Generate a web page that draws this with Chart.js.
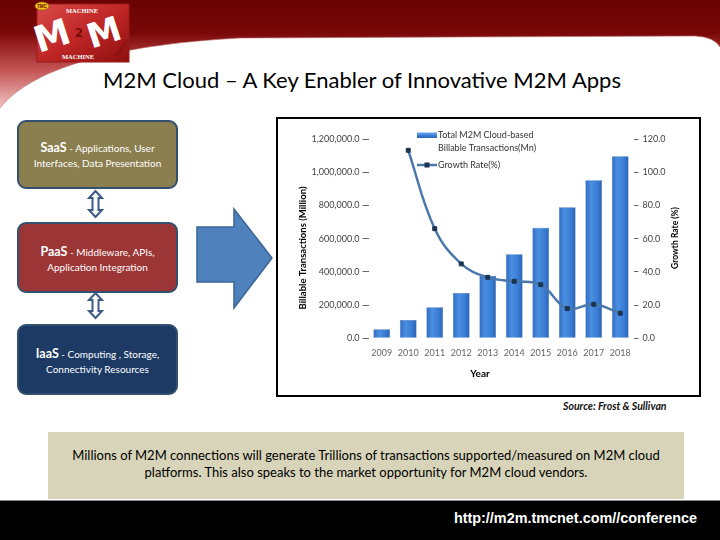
<!DOCTYPE html>
<html>
<head>
<meta charset="utf-8">
<script src="https://cdn.jsdelivr.net/npm/chart.js@4/dist/chart.umd.min.js"></script>
<style>
  html,body{margin:0;padding:0;background:#fff;}
  #slide{position:relative;width:720px;height:540px;overflow:hidden;background:#fff;font-family:Lato,"Open Sans",sans-serif;}
  .abs{position:absolute;}
  #title{left:0;width:724px;top:66px;text-align:center;font-size:22px;color:#000;font-family:Lato,sans-serif;}
  .box{position:absolute;left:17px;width:157px;border:2px solid #33506f;border-radius:9px;color:#fff;text-align:center;font-size:10px;line-height:15px;box-sizing:content-box;}
  .box b{font-size:12.5px;font-weight:700;}
  #chartWrap{position:absolute;left:276px;top:117px;width:421px;height:276px;border:2px solid #000;}
  #chartWrap canvas{position:absolute;left:0;top:0;}
  #source{left:563px;top:400px;font-size:10.5px;font-style:italic;font-weight:bold;color:#111;}
  #caption{left:48px;top:432px;width:636px;height:67px;background:#d7d4b9;text-align:center;font-size:13px;line-height:17px;color:#000;box-sizing:border-box;padding-top:15px;font-family:Lato,sans-serif;}
  #footer{left:0;top:500px;width:720px;height:40px;background:#000;border-top:1px solid #888;}
  #url{right:23px;top:510px;font-family:"Liberation Sans",Arial,sans-serif;font-weight:bold;font-size:14.4px;color:#fff;}
</style>
</head>
<body>
<div id="slide">
  <svg class="abs" style="left:0;top:0" width="720" height="115">
    <defs>
      <linearGradient id="hdr" x1="0" y1="0" x2="0" y2="1">
        <stop offset="0" stop-color="#690303"/>
        <stop offset="0.3" stop-color="#7a0808"/>
        <stop offset="0.42" stop-color="#9a2222"/>
        <stop offset="0.65" stop-color="#c65858"/>
        <stop offset="1" stop-color="#f3caca"/>
      </linearGradient>
      <linearGradient id="logo" x1="0" y1="0" x2="1" y2="1">
        <stop offset="0" stop-color="#d94a4a"/>
        <stop offset="0.5" stop-color="#c02626"/>
        <stop offset="1" stop-color="#8e1010"/>
      </linearGradient>
    </defs>
    <rect x="0" y="0" width="720" height="110" fill="url(#hdr)"/>
    <path d="M0,108 C30,70 110,45 240,38 L695,36 Q714,37 720,47 L720,115 L0,115 Z" fill="#ffffff"/>
    <path d="M0,108 C30,70 110,45 240,38 L695,36 Q714,37 720,47" fill="none" stroke="#b07070" stroke-width="1" opacity="0.6"/>
    <rect x="37" y="4" width="92" height="58" fill="url(#logo)" stroke="#9a1a1a" stroke-width="1"/>
    <ellipse cx="42" cy="6" rx="7" ry="4" fill="#f0c020" stroke="#8a6a00" stroke-width="0.6"/>
    <text x="42" y="8" font-size="4.5" font-family="Liberation Sans" font-weight="bold" text-anchor="middle" fill="#6a0000">TMC</text>
    <text x="82" y="13" font-size="6.5" font-family="Liberation Serif" font-weight="bold" fill="#fff" text-anchor="middle">MACHINE</text>
    <text x="52" y="48" font-size="36" font-family="DejaVu Sans" font-weight="bold" fill="#fff" text-anchor="middle" transform="rotate(-18 52 36)">M</text>
    <text x="104" y="44" font-size="34" font-family="DejaVu Sans" font-weight="bold" fill="#fff" text-anchor="middle" transform="rotate(-18 104 32)">M</text>
    <text x="79" y="37" font-size="12" font-family="DejaVu Sans" font-weight="bold" fill="#7a0a0a" text-anchor="middle">2</text>
    <text x="78" y="59" font-size="6.5" font-family="Liberation Serif" font-weight="bold" fill="#fff" text-anchor="middle">MACHINE</text>
    <text x="117" y="57" font-size="5" font-family="Liberation Sans" fill="#7a0a0a" transform="rotate(-55 117 57)">Evolution</text>
  </svg>

  <div id="title" class="abs">M2M Cloud – A Key Enabler of Innovative M2M Apps</div>

  <div class="box" style="top:120px;height:65px;background:#8b7e4f;">
    <div style="padding-top:18px;"><b>SaaS</b> - Applications, User<br>Interfaces, Data Presentation</div>
  </div>
  <div class="box" style="top:222px;height:67px;background:#9c3535;">
    <div style="padding-top:20px;"><b>PaaS</b> - Middleware, APIs,<br>Application Integration</div>
  </div>
  <div class="box" style="top:324px;height:67px;background:#1c3a64;">
    <div style="padding-top:20px;"><b>IaaS</b> - Computing , Storage,<br>Connectivity Resources</div>
  </div>

  <svg class="abs" style="left:0;top:0" width="300" height="400">
    <path d="M95.5,191 L102,198 L98.5,198 L98.5,210 L102,210 L95.5,217 L89,210 L92.5,210 L92.5,198 L89,198 Z" fill="#fff" stroke="#3b5b86" stroke-width="2"/>
    <path d="M95.5,293 L102,300 L98.5,300 L98.5,311 L102,311 L95.5,318 L89,311 L92.5,311 L92.5,300 L89,300 Z" fill="#fff" stroke="#3b5b86" stroke-width="2"/>
    <polygon points="197,227 234,227 234,209 272,258 234,308 234,282 197,282" fill="#4f81bd" stroke="#3a6596" stroke-width="1.5"/>
  </svg>

  <div id="chartWrap"><canvas id="c" width="421" height="276"></canvas></div>

  <div id="source" class="abs">Source: Frost &amp; Sullivan</div>

  <div id="caption" class="abs">Millions of M2M connections will generate Trillions of transactions supported/measured on M2M cloud<br>platforms. This also speaks to the market opportunity for M2M cloud vendors.</div>

  <div id="footer" class="abs"></div>
  <div id="url" class="abs">http://m2m.tmcnet.com//conference</div>
</div>

<script>
// ---- data ----
const years = ['2009','2010','2011','2012','2013','2014','2015','2016','2017','2018'];
const transactions = [54000, 110000, 187000, 273000, 377000, 506000, 666000, 789000, 951000, 1096000];
const growthRate = [null, 113.2, 66.0, 44.8, 36.7, 34.3, 32.3, 17.9, 20.5, 15.1];
const barLegend = ['Total M2M Cloud-based', 'Billable Transactions(Mn)'];
const lineLegend = 'Growth Rate(%)';
const leftTitle = 'Billable Transactions (Million)';
const rightTitle = 'Growth Rate (%)';
const xTitle = 'Year';

const FONT = 'Lato, "Open Sans", sans-serif';
const lineColor = '#4a78ad';
const markerColor = '#1c3350';

function barFill(ctx) {
  const chart = ctx.chart;
  const area = chart.chartArea;
  if (!area) return '#3b7dd6';
  const el = ctx.element;
  let cx, w;
  if (el && el.width) { cx = el.x; w = el.width; }
  else { cx = chart.scales.x.getPixelForValue(ctx.dataIndex); w = chart.scales.x.width / years.length * 0.63; }
  const g = chart.ctx.createLinearGradient(cx - w/2, 0, cx + w/2, 0);
  g.addColorStop(0, '#2f6cc4');
  g.addColorStop(0.35, '#4b8fe0');
  g.addColorStop(0.7, '#3a7ed6');
  g.addColorStop(1, '#2b63b5');
  return g;
}

const fmt1 = v => Number(v).toLocaleString('en-US', {minimumFractionDigits:1, maximumFractionDigits:1});

const decor = {
  id: 'decor',
  afterDraw(chart) {
    const c = chart.ctx;
    c.save();
    // legend
    const lx = 139;
    const line = chart.data.datasets[1];
    const g = c.createLinearGradient(0, 14, 0, 19);
    g.addColorStop(0, '#6aa4ea'); g.addColorStop(0.5, '#3a7ed6'); g.addColorStop(1, '#2b63b5');
    c.fillStyle = g;
    c.fillRect(lx, 13.5, 20, 5.5);
    c.font = '9px ' + FONT;
    c.fillStyle = '#333';
    c.textBaseline = 'middle';
    c.textAlign = 'left';
    c.fillText(barLegend[0], lx + 21, 16.5);
    c.fillText(barLegend[1], lx + 21, 29.5);
    c.strokeStyle = line.borderColor;
    c.lineWidth = line.borderWidth;
    c.beginPath(); c.moveTo(lx, 46); c.lineTo(lx + 20, 46); c.stroke();
    c.fillStyle = line.pointBackgroundColor;
    c.fillRect(lx + 7.5, 43.5, 5, 5);
    c.fillStyle = '#333';
    c.fillText(lineLegend, lx + 21, 46);
    // axis titles
    c.fillStyle = '#000';
    c.textAlign = 'center';
    c.font = 'bold 9.5px ' + FONT;
    c.save(); c.translate(25, 129); c.rotate(-Math.PI/2); c.fillText(leftTitle, 0, 0); c.restore();
    c.font = 'bold 8.5px ' + FONT;
    c.save(); c.translate(397, 119); c.rotate(-Math.PI/2); c.fillText(rightTitle, 0, 0); c.restore();
    c.font = 'bold 10px ' + FONT;
    c.fillText(xTitle, 202, 255);
    c.restore();
  }
};

new Chart(document.getElementById('c'), {
  data: {
    labels: years,
    datasets: [
      {
        type: 'bar',
        label: barLegend.join(' '),
        data: transactions,
        yAxisID: 'y',
        backgroundColor: barFill,
        borderColor: '#2a5fa8',
        borderWidth: 0.5,
        categoryPercentage: 1.0,
        barPercentage: 0.63,
        order: 2
      },
      {
        type: 'line',
        label: lineLegend,
        data: growthRate,
        yAxisID: 'y1',
        borderColor: lineColor,
        borderWidth: 2.5,
        tension: 0.4,
        pointStyle: 'rect',
        pointRadius: 2.8,
        pointBackgroundColor: markerColor,
        pointBorderColor: markerColor,
        pointBorderWidth: 1,
        order: 1
      }
    ]
  },
  options: {
    responsive: false,
    animation: false,
    devicePixelRatio: 1,
    layout: { padding: { top: 20, left: 0, right: 0, bottom: 0 } },
    plugins: { legend: { display: false }, tooltip: { enabled: false }, title: { display: false } },
    scales: {
      x: {
        grid: { display: false, drawTicks: false },
        border: { display: false },
        ticks: { font: { size: 9, family: FONT }, color: '#666', padding: 9, maxRotation: 0, autoSkip: false },
        afterFit(s) { s.height = 56.7; }
      },
      y: {
        position: 'left',
        min: 0, max: 1200000,
        grid: { drawOnChartArea: false, drawTicks: true, tickLength: 6, color: '#666' },
        border: { display: false },
        ticks: { stepSize: 200000, font: { size: 9, family: FONT }, color: '#444', padding: 3, callback: v => fmt1(v) },
        afterFit(s) { s.width = 90.5; }
      },
      y1: {
        position: 'right',
        min: 0, max: 120,
        grid: { drawOnChartArea: false, drawTicks: true, tickLength: 5, color: '#666' },
        border: { display: false },
        ticks: { stepSize: 20, font: { size: 9, family: FONT }, color: '#444', padding: 4, callback: v => fmt1(v) },
        afterFit(s) { s.width = 65.5; }
      }
    }
  },
  plugins: [decor]
});
</script>
</body>
</html>
